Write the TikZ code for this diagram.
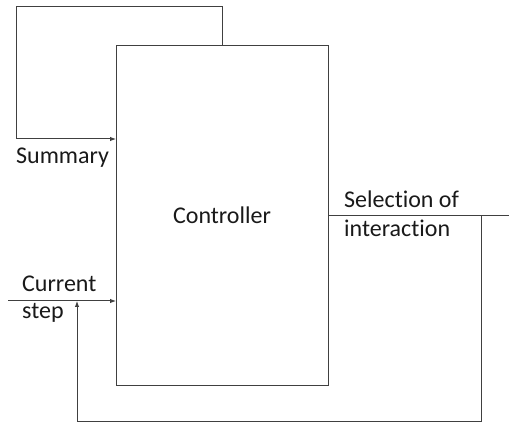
\documentclass[tikz,border=0pt]{standalone}
\usepackage{fontspec}
\setmainfont{Carlito}[Ligatures={NoCommon,NoContextual}]
\usetikzlibrary{arrows.meta}
\begin{document}
\begin{tikzpicture}[x=1pt,y=-1pt,
  wire/.style={draw=black!75, line width=1pt},
  arr/.style={wire, -{Latex[length=6pt,width=4.5pt]}},
  lbl/.style={inner sep=0pt, anchor=base west, font=\fontsize{24}{29}\selectfont, text=black!90},
  box/.style={draw=black!75, line width=1pt, minimum width=212pt, minimum height=339pt, inner sep=0pt, font=\fontsize{24}{29}\selectfont, text=black!90}]
\useasboundingbox (0,0) rectangle (509,422);
\node[box] (ctrl) at (222,215.5) {Controller};
\coordinate (tl) at (16,7);
\coordinate (sumin) at (116,139);
\coordinate (outend) at (509,215.5);
\coordinate (br) at (481,421);
\coordinate (bl) at (77,421);
\coordinate (instart) at (8,301);
\coordinate (inend) at (116,301);
\coordinate (fbend) at (77,301);
% feedback summary loop
\draw[arr] (ctrl.north) -- (ctrl.north |- tl) -- (tl) |- (sumin);
% output
\draw[wire] (ctrl.east) -- (outend);
\draw[arr] (br |- outend) -- (br) -- (bl) -- (fbend);
% input
\draw[arr] (instart) -- (inend);
% labels
\node[lbl] (summ) at (16,164) {Summary};
\node[lbl] (sel) at (344,208) {Selection of};
\node[lbl] (inter) at (344,237) {interaction};
\node[lbl] (cur) at (22,292) {Current};
\node[lbl] (stp) at (22,319) {step};
\end{tikzpicture}
\end{document}
